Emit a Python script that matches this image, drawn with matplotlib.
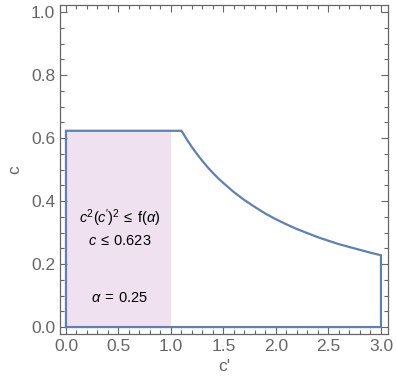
import matplotlib.pyplot as plt
from matplotlib.ticker import MultipleLocator

plt.rcParams['font.family'] = ['Liberation Sans', 'DejaVu Sans']
plt.rcParams['mathtext.fontset'] = 'custom'
plt.rcParams['mathtext.rm'] = 'Liberation Sans'
plt.rcParams['mathtext.it'] = 'Liberation Sans:italic'

# boundary of the allowed region
c_bound = 0.623
curve_x = [1.10, 1.15, 1.20, 1.25, 1.30, 1.35, 1.40, 1.45, 1.50, 1.60, 1.70, 1.80,
           1.90, 2.00, 2.10, 2.20, 2.30, 2.40, 2.50, 2.60, 2.70, 2.80, 2.90, 3.00]
curve_y = [0.623, 0.596, 0.571, 0.548, 0.527, 0.507, 0.489, 0.472, 0.457, 0.428, 0.403, 0.381,
           0.360, 0.342, 0.326, 0.311, 0.298, 0.285, 0.274, 0.263, 0.254, 0.245, 0.236, 0.228]
shade_x = [0.0, 1.0]

outline_x = [0.0, 0.0] + curve_x + [3.0, 0.0]
outline_y = [0.0, c_bound] + curve_y + [0.0, 0.0]

grey = '#666666'
blue = '#5e81b5'

fig = plt.figure(figsize=(3.96, 3.90), dpi=100)
ax = fig.add_axes([0.1515, 0.1436, 0.8283, 0.8434])

ax.fill_between(shade_x, 0, c_bound, color='#efe1ef', lw=0, zorder=1)
ax.plot(outline_x, outline_y, color=blue, lw=1.6, zorder=3, solid_joinstyle='miter')

ax.set_xlim(-0.057, 3.067)
ax.set_ylim(-0.022, 1.022)
ax.xaxis.set_major_locator(MultipleLocator(0.5))
ax.xaxis.set_minor_locator(MultipleLocator(0.1))
ax.yaxis.set_major_locator(MultipleLocator(0.2))
ax.yaxis.set_minor_locator(MultipleLocator(0.05))
ax.xaxis.set_major_formatter(lambda v, p: f'{v:.1f}')
ax.yaxis.set_major_formatter(lambda v, p: f'{v:.1f}')

ax.tick_params(which='both', direction='in', top=True, right=True, color=grey,
               labelcolor=grey, labelsize=12.5, width=0.8)
ax.tick_params(which='major', length=5)
ax.tick_params(which='minor', length=3)
for s in ax.spines.values():
    s.set_color(grey)
    s.set_linewidth(0.9)

ax.set_xlabel("c'", color=grey, fontsize=12.5, labelpad=4)
ax.set_ylabel('c', color=grey, fontsize=12.5, labelpad=6)

ax.text(0.51, 0.346, r"$c^2(c\mathrm{'})^2\:\leq\:\mathrm{f}(\alpha)$", ha='center', va='center', fontsize=10.5)
ax.text(0.51, 0.272, r"$c\:\leq\:\mathrm{0.623}$", ha='center', va='center', fontsize=10.5)
ax.text(0.51, 0.092, r"$\alpha\:=\:\mathrm{0.25}$", ha='center', va='center', fontsize=10.5)

fig.savefig('out.png', dpi=100)
